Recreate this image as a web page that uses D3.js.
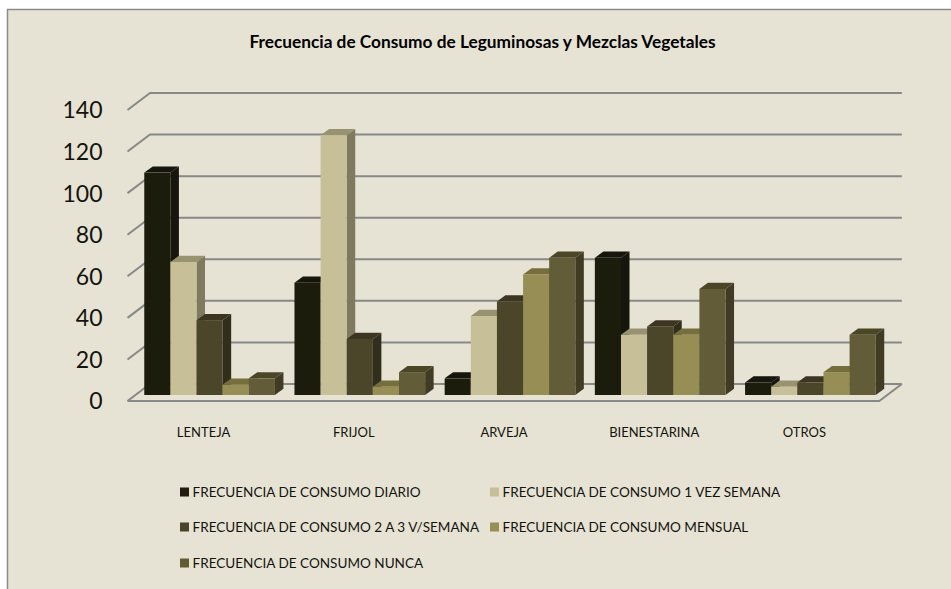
<!DOCTYPE html>
<html>
<head>
<meta charset="utf-8">
<script src="https://d3js.org/d3.v7.min.js"></script>
<style>
html,body{margin:0;padding:0;background:#fff;}
svg{display:block;}
text{font-family:Lato,"Open Sans",sans-serif;fill:#14140e;}
</style>
</head>
<body>
<script>
const categories = ["LENTEJA","FRIJOL","ARVEJA","BIENESTARINA","OTROS"];
const seriesNames = [
  "FRECUENCIA DE CONSUMO DIARIO",
  "FRECUENCIA DE CONSUMO 1 VEZ SEMANA",
  "FRECUENCIA DE CONSUMO 2 A 3 V/SEMANA",
  "FRECUENCIA DE CONSUMO MENSUAL",
  "FRECUENCIA DE CONSUMO NUNCA"
];
const diario  = [107, 54, 8, 66, 6];
const unaVez  = [64, 125, 38, 29, 4];
const dosTres = [36, 27, 45, 33, 6];
const mensual = [5, 4, 58, 29, 11];
const nunca   = [8, 11, 66, 51, 29];
const seriesValues = [diario, unaVez, dosTres, mensual, nunca];
const frontColors = ["#1f1c10","#c6bf97","#4b442b","#978e54","#625b38"];
const topColors   = ["#16150b","#98926f","#3c3620","#766e3e","#4b4628"];
const sideColors  = ["#15140b","#7f7a5f","#322e1d","#5f5832","#403b24"];
const yTicks = [0,20,40,60,80,100,120,140];

const W = 951, H = 589;
const svg = d3.select("body").append("svg").attr("width",W).attr("height",H);

// chart area
svg.append("rect").attr("width",W).attr("height",H).attr("fill","#fff");
svg.append("rect").attr("x",7.5).attr("y",9.5).attr("width",W).attr("height",H)
  .attr("fill","#e6e3d5").attr("stroke","#8a8a8a").attr("stroke-width",1.5);

const defs = svg.append("defs");
defs.append("filter").attr("id","soft").append("feGaussianBlur").attr("stdDeviation",0.45);

const y = d3.scaleLinear().domain([0,140]).range([401,110]);
const x0 = d3.scaleBand().domain(categories).range([134.5,885.5]).paddingInner(0.13).paddingOuter(0.065);
const x1 = d3.scaleBand().domain(d3.range(seriesNames.length)).range([0,x0.bandwidth()]);

const wallDX = 22.5, wallDY = -17;   // depth of the chart floor
const frontL = 127.5, frontR = 879.3;
const barPlaneDY = -6;               // bars stand inside the floor
const depthX = 8.5, depthY = -6.2;   // depth of a bar

const plot = svg.append("g").attr("filter","url(#soft)");

// gridlines on wall and side wall
const gridColor = "#888888";
const grid = plot.append("g").attr("fill","none").attr("stroke",gridColor).attr("stroke-width",2);
grid.selectAll("path.g").data(yTicks).join("path").attr("class","g")
  .attr("d", t => d3.line()([
    [frontL, y(t)],
    [frontL+wallDX, y(t)+wallDY],
    [frontR+wallDX, y(t)+wallDY]
  ]));
// floor front edge
grid.append("path").attr("d", d3.line()([
  [frontL, y(0)], [frontR, y(0)], [frontR+wallDX, y(0)+wallDY]
]));

// bars
const groups = plot.selectAll("g.cat").data(categories).join("g").attr("class","cat")
  .attr("transform", c => `translate(${x0(c)},0)`);

groups.each(function(c,ci){
  const g = d3.select(this);
  seriesValues.forEach((vals,si)=>{
    const v = vals[ci];
    const bx = x1(si), bw = x1.bandwidth();
    const by = y(v)+barPlaneDY, b0 = y(0)+barPlaneDY;
    g.append("path").attr("fill",sideColors[si]).attr("d", d3.line()([
      [bx+bw,by],[bx+bw+depthX,by+depthY],[bx+bw+depthX,b0+depthY],[bx+bw,b0]
    ])+"Z");
    g.append("path").attr("fill",topColors[si]).attr("d", d3.line()([
      [bx,by],[bx+depthX,by+depthY],[bx+bw+depthX,by+depthY],[bx+bw,by]
    ])+"Z");
    g.append("rect").attr("fill",frontColors[si])
      .attr("x",bx).attr("y",by).attr("width",bw).attr("height",b0-by);
  });
});

// y axis labels
const yAxis = svg.append("g").attr("transform","translate(102.5,0.5)")
  .call(d3.axisLeft(y).tickValues(yTicks).tickSize(0).tickPadding(0));
yAxis.select(".domain").remove();
yAxis.selectAll("text").style("font-size","23px").style("font-family","Lato,sans-serif").attr("fill","#14140e");

// category labels
svg.append("g").selectAll("text").data(categories).join("text")
  .attr("x", c => x0(c)+x0.bandwidth()/2-6)
  .attr("y", 437)
  .attr("text-anchor","middle")
  .style("font-size","13px")
  .text(c => c);

// title
svg.append("text").attr("x",482.5).attr("y",47.5).attr("text-anchor","middle")
  .style("font-size","17.3px").style("font-weight","700").style("fill","#000")
  .text("Frecuencia de Consumo de Leguminosas y Mezclas Vegetales");

// legend
const legendX = [180,490], legendY = [492,527,563];
const leg = svg.append("g").selectAll("g").data(seriesNames).join("g")
  .attr("transform",(d,i)=>`translate(${legendX[i%2]},${legendY[Math.floor(i/2)]})`);
leg.append("rect").attr("y",-4.5).attr("width",9).attr("height",9).attr("fill",(d,i)=>frontColors[i]);
leg.append("text").attr("x",i=>12.5).attr("y",5).style("font-size","13.55px").text(d=>d);
</script>
</body>
</html>
